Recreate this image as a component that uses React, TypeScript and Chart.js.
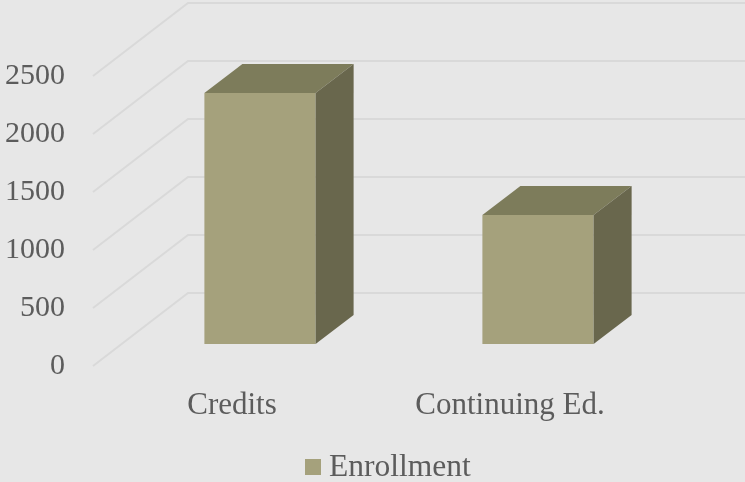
import React, { useEffect, useRef } from "react";
import { Chart, registerables } from "chart.js";

Chart.register(...registerables);

const categories = ["Credits", "Continuing Ed."];
const enrollment = [2164, 1112];
const tickValues = [0, 500, 1000, 1500, 2000, 2500];
const seriesName = "Enrollment";

const FONT = "'Liberation Serif', serif";
const TEXT = "#5c5c5c";
const GRID = "#d9d9d9";
const FRONT = "#a5a17c";
const TOP = "#7d7c5b";
const SIDE = "#69674d";
const WALL_DX = 95;
const WALL_DY = -73;
const BAR_SHIFT_X = 28;
const BAR_SHIFT_Y = -22;
const BAR_DX = 38;
const BAR_DY = -29;

const scene3d = {
  id: "scene3d",
  beforeDatasetsDraw(chart: any) {
    const { ctx, scales, chartArea, width } = chart;
    const y = scales.y;
    ctx.save();
    ctx.strokeStyle = GRID;
    ctx.lineWidth = 2;
    tickValues.forEach((v) => {
      const py = y.getPixelForValue(v);
      ctx.beginPath();
      ctx.moveTo(chartArea.left, py);
      ctx.lineTo(chartArea.left + WALL_DX, py + WALL_DY);
      ctx.lineTo(width, py + WALL_DY);
      ctx.stroke();
    });
    ctx.restore();
    ctx.save();
    ctx.translate(BAR_SHIFT_X, BAR_SHIFT_Y);
  },
  afterDatasetsDraw(chart: any) {
    const { ctx } = chart;
    chart.getDatasetMeta(0).data.forEach((bar: any) => {
      const half = bar.width / 2;
      const l = bar.x - half;
      const r = bar.x + half;
      const t = bar.y;
      const b = bar.base;
      ctx.fillStyle = TOP;
      ctx.beginPath();
      ctx.moveTo(l, t);
      ctx.lineTo(l + BAR_DX, t + BAR_DY);
      ctx.lineTo(r + BAR_DX, t + BAR_DY);
      ctx.lineTo(r, t);
      ctx.closePath();
      ctx.fill();
      ctx.fillStyle = SIDE;
      ctx.beginPath();
      ctx.moveTo(r, t);
      ctx.lineTo(r + BAR_DX, t + BAR_DY);
      ctx.lineTo(r + BAR_DX, b + BAR_DY);
      ctx.lineTo(r, b);
      ctx.closePath();
      ctx.fill();
    });
    ctx.restore();
  },
  afterDraw(chart: any) {
    const { ctx } = chart;
    ctx.save();
    ctx.fillStyle = FRONT;
    ctx.fillRect(305, 459, 16, 16);
    ctx.fillStyle = TEXT;
    ctx.font = `31.5px ${FONT}`;
    ctx.textAlign = "left";
    ctx.textBaseline = "middle";
    ctx.fillText(chart.data.datasets[0].label, 329, 468);
    ctx.restore();
  },
};

export default function App() {
  const ref = useRef<HTMLCanvasElement>(null);
  useEffect(() => {
    const chart = new Chart(ref.current as HTMLCanvasElement, {
      type: "bar",
      data: {
        labels: categories,
        datasets: [
          {
            label: seriesName,
            data: enrollment,
            backgroundColor: FRONT,
            barPercentage: 0.4,
            categoryPercentage: 1,
          },
        ],
      },
      options: {
        responsive: false,
        animation: false,
        devicePixelRatio: 1,
        layout: { padding: { top: 76, right: 96, left: 0, bottom: 0 } },
        plugins: {
          tooltip: { enabled: false },
          legend: { display: false },
        },
        scales: {
          x: {
            grid: { display: false, drawTicks: false },
            border: { display: false },
            ticks: { color: TEXT, font: { family: FONT, size: 31 }, padding: 21, maxRotation: 0 },
            afterFit(s: any) {
              s.height = 116;
            },
          },
          y: {
            min: 0,
            max: 2500,
            grid: { display: false, drawTicks: false },
            border: { display: false },
            ticks: {
              color: TEXT,
              font: { family: FONT, size: 30 },
              padding: 28,
              stepSize: 500,
              callback: (v: any) => String(v),
            },
            afterFit(s: any) {
              s.width = 93;
            },
          },
        },
      },
      plugins: [scene3d],
    } as any);
    return () => chart.destroy();
  }, []);
  return (
    <div style={{ position: "fixed", left: 0, top: 0, width: 745, height: 482, background: "#e7e7e7" }}>
      <canvas ref={ref} width={745} height={482} style={{ display: "block" }} />
    </div>
  );
}
